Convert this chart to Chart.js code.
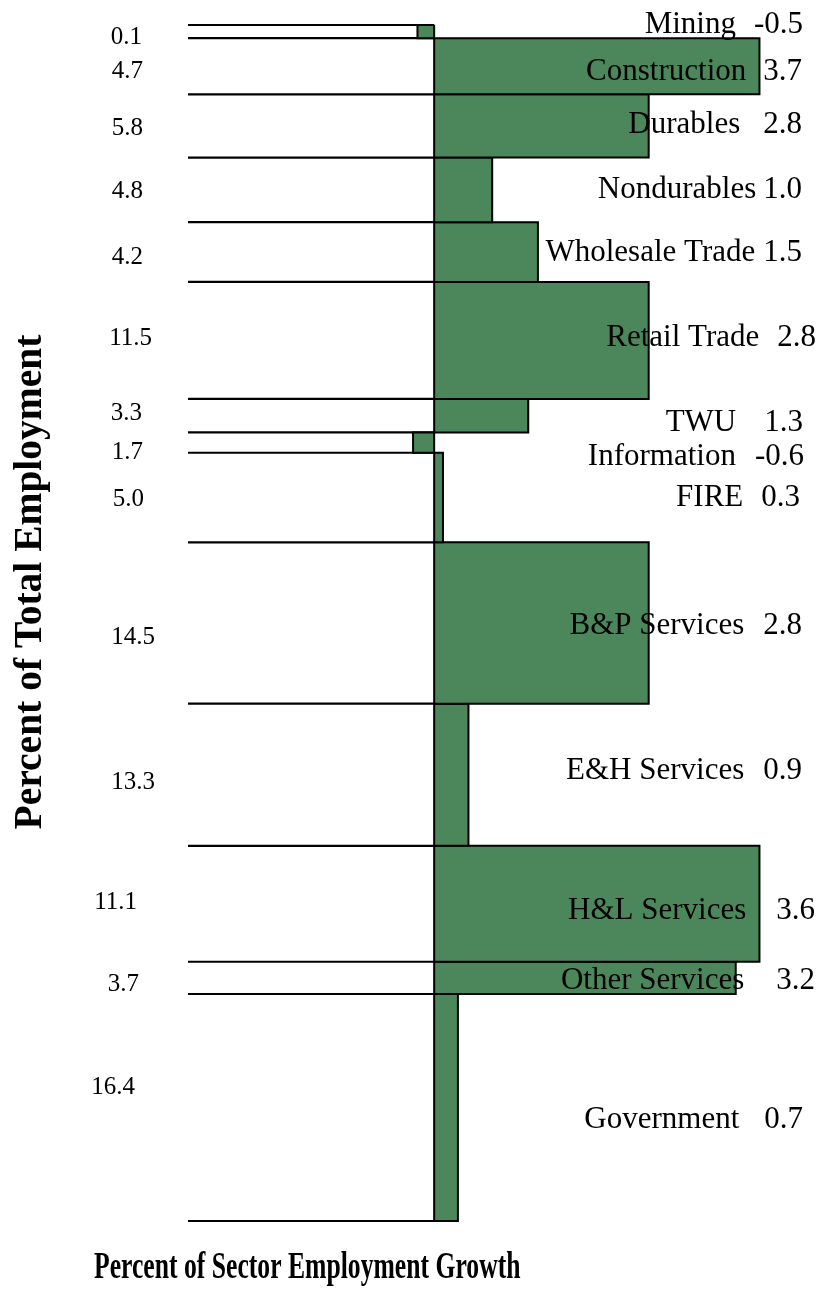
<!DOCTYPE html>
<html>
<head>
<meta charset="utf-8">
<script src="https://cdn.jsdelivr.net/npm/chart.js@4.4.1/dist/chart.umd.min.js"></script>
<style>
  html, body { margin: 0; padding: 0; background: #fff; }
  #wrap { width: 821px; height: 1291px; }
</style>
</head>
<body>
<div id="wrap"><canvas id="growthChart" width="821" height="1291"></canvas></div>
<script>
// sectors, top to bottom
const sectors = ["Mining", "Construction", "Durables", "Nondurables", "Wholesale Trade", "Retail Trade",
  "TWU", "Information", "FIRE", "B&P Services", "E&H Services", "H&L Services", "Other Services", "Government"];
// numbers printed on the chart
const shareText = ["0.1", "4.7", "5.8", "4.8", "4.2", "11.5", "3.3", "1.7", "5.0", "14.5", "13.3", "11.1", "3.7", "16.4"];
const growthText = ["-0.5", "3.7", "2.8", "1.0", "1.5", "2.8", "1.3", "-0.6", "0.3", "2.8", "0.9", "3.6", "3.2", "0.7"];
// bar extents as they are drawn in the source (the drawing is not to scale with the printed numbers)
const barGrowth = [-0.19, 3.70, 2.44, 0.66, 1.18, 2.44, 1.07, -0.24, 0.10, 2.44, 0.39, 3.70, 3.43, 0.27];
const rowShare = [1.1, 4.7, 5.3, 5.4, 5.0, 9.8, 2.8, 1.7, 7.5, 13.5, 11.9, 9.7, 2.7, 19.0];

// label placement tweaks [dx, dy] in px
const leftNudge = [[-1, 6], [0, 5], [0, 2], [0, 2], [0, 5], [9, -2], [-1, -2], [0, 10], [1, 2], [12, 14], [12, 8], [-6, -1], [-4, 7], [-8, -20]];
const rightNudge = [[1, -7], [0, 6], [0, -1], [0, 0], [0, 1], [14, -3], [1, 7], [2, 14], [-2, 0], [0, 3], [0, -4], [13, 7], [13, 3], [1, 12]];
const nameGap = [18, 17, 23, 7, 8, 18, 28, 19, 18, 19, 19, 30, 32, 25];

const green = "#4c875b";
const serif = '"Liberation Serif", "Times New Roman", serif';
const xMin = -2.8, xMax = 4.4;

// row tops along the share axis
const tops = [];
let acc = 0;
rowShare.forEach(s => { tops.push(acc); acc += s; });
const total = acc;

const barSets = sectors.map((name, i) => {
  const t = tops[i], b = tops[i] + rowShare[i], v = barGrowth[i];
  return {
    label: name,
    data: [{x: 0, y: t}, {x: v, y: t}, {x: v, y: b}, {x: 0, y: b}, {x: 0, y: t}],
    showLine: true,
    fill: "shape",
    backgroundColor: green,
    borderColor: "#000",
    borderWidth: 2,
    pointRadius: 0,
    tension: 0,
    clip: false
  };
});

const bounds = tops.concat([total]);
const lineSets = bounds.map(b => ({
  label: "",
  data: [{x: xMin, y: b}, {x: 0, y: b}],
  showLine: true,
  fill: false,
  borderColor: "#000",
  borderWidth: 2.2,
  pointRadius: 0,
  clip: false
}));

const labelPlugin = {
  id: "sectorLabels",
  afterDatasetsDraw(chart) {
    const ctx = chart.ctx;
    const y = chart.scales.y;
    ctx.save();
    ctx.fillStyle = "#000";
    ctx.textBaseline = "middle";
    sectors.forEach((name, i) => {
      const mid = y.getPixelForValue(tops[i] + rowShare[i] / 2);
      ctx.textAlign = "right";
      ctx.font = "25px " + serif;
      ctx.fillText(shareText[i], 143 + leftNudge[i][0], mid + leftNudge[i][1]);

      ctx.font = "31px " + serif;
      const vx = 802 + rightNudge[i][0], vy = mid + rightNudge[i][1];
      ctx.fillText(growthText[i], vx, vy);
      const w = ctx.measureText(growthText[i]).width;
      ctx.fillText(name, vx - w - nameGap[i], vy);
    });

    // axis titles
    ctx.font = "bold 39.5px " + serif;
    ctx.textAlign = "center";
    ctx.save();
    ctx.translate(31, 582);
    ctx.rotate(-Math.PI / 2);
    ctx.fillText("Percent of Total Employment", 0, 0);
    ctx.restore();

    ctx.save();
    ctx.translate(94, 1278);
    ctx.scale(0.675, 1);
    ctx.textAlign = "left";
    ctx.textBaseline = "alphabetic";
    ctx.font = "bold 38px " + serif;
    ctx.fillText("Percent of Sector Employment Growth", 0, 0);
    ctx.restore();
    ctx.restore();
  }
};

new Chart(document.getElementById("growthChart").getContext("2d"), {
  type: "scatter",
  data: { datasets: barSets.concat(lineSets) },
  options: {
    responsive: false,
    animation: false,
    layout: { padding: { left: 188, right: 0, top: 25, bottom: 70 } },
    scales: {
      x: { type: "linear", min: xMin, max: xMax, display: false },
      y: { type: "linear", min: 0, max: total, reverse: true, display: false }
    },
    plugins: { legend: { display: false }, tooltip: { enabled: false } }
  },
  plugins: [labelPlugin]
});
</script>
</body>
</html>
